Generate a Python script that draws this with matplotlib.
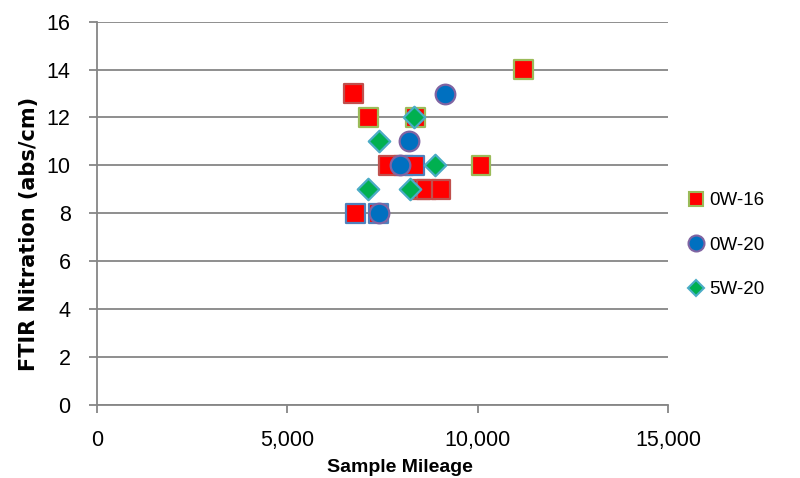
"""FTIR nitration vs sample mileage, by oil grade."""

import matplotlib

matplotlib.use("Agg")

import matplotlib.pyplot as plt
from matplotlib.ticker import FuncFormatter

# 0W-16 samples
mileage_0w16 = [11200, 6750, 7130, 8380, 7650, 8050, 8350, 10090, 8500, 8650, 9040, 6790, 7400]
nitration_0w16 = [14, 13, 12, 12, 10, 10, 10, 10, 9, 9, 9, 8, 8]
edges_0w16 = ["#9bbb59", "#c0504d", "#9bbb59", "#9bbb59", "#c0504d", "#c0504d", "#4f81bd",
              "#9bbb59", "#c0504d", "#c0504d", "#c0504d", "#4f81bd", "#4f81bd"]

# 0W-20 samples
mileage_0w20 = [9150, 8210, 7950, 7400]
nitration_0w20 = [13, 11, 10, 8]

# 5W-20 samples
mileage_5w20 = [8340, 7420, 8890, 7120, 8230]
nitration_5w20 = [12, 11, 10, 9, 9]

plt.rcParams["font.family"] = ["Liberation Sans", "DejaVu Sans"]

fig = plt.figure(figsize=(8, 4.78), dpi=100)
ax = fig.add_axes([0.121, 0.1527, 0.714, 0.802])

ax.scatter(mileage_0w16, nitration_0w16, marker="s", s=185, c="#ff0000",
           edgecolors=edges_0w16, linewidths=1.6, zorder=3)
ax.scatter(mileage_0w20, nitration_0w20, marker="o", s=200, c="#0070c0",
           edgecolors="#8064a2", linewidths=1.6, zorder=4)
ax.scatter(mileage_5w20, nitration_5w20, marker="D", s=120, c="#00b050",
           edgecolors="#4bacc6", linewidths=1.6, zorder=5)

ax.set_xlim(0, 15000)
ax.set_ylim(0, 16)
ax.set_xticks([0, 5000, 10000, 15000])
ax.set_yticks(range(0, 17, 2))
ax.xaxis.set_major_formatter(FuncFormatter(lambda v, _: f"{int(v):,}"))
ax.yaxis.grid(True, color="#868686", linewidth=1.3)
ax.set_axisbelow(True)

for side in ("top", "right"):
    ax.spines[side].set_visible(False)
for side in ("left", "bottom"):
    ax.spines[side].set_color("#868686")
    ax.spines[side].set_linewidth(1.3)
ax.tick_params(axis="both", length=5.8, width=1.3, color="#868686", labelsize=15.5)
ax.tick_params(axis="x", pad=12)
ax.tick_params(axis="y", pad=13)

ax.set_xlabel("Sample Mileage", fontsize=14, fontweight="bold")
ax.xaxis.set_label_coords(0.53, -0.14)
ax.set_ylabel("FTIR Nitration (abs/cm)", fontsize=15, fontweight="bold",
              family=["DejaVu Sans"])
ax.yaxis.set_label_coords(-0.102, 0.445)

handles = [
    plt.Line2D([], [], linestyle="none", marker="s", markersize=10.5, markerfacecolor="#ff0000",
               markeredgecolor="#9bbb59", markeredgewidth=1.5),
    plt.Line2D([], [], linestyle="none", marker="o", markersize=11.5, markerfacecolor="#0070c0",
               markeredgecolor="#8064a2", markeredgewidth=1.5),
    plt.Line2D([], [], linestyle="none", marker="D", markersize=8.5, markerfacecolor="#00b050",
               markeredgecolor="#4bacc6", markeredgewidth=1.5),
]
fig.legend(handles, ["0W-16", "0W-20", "5W-20"], loc="center left",
           bbox_to_anchor=(0.84, 0.487), frameon=False, fontsize=13.5,
           handlelength=0.8, handletextpad=0.3, labelspacing=1.45)

fig.savefig("out.png", dpi=100)
